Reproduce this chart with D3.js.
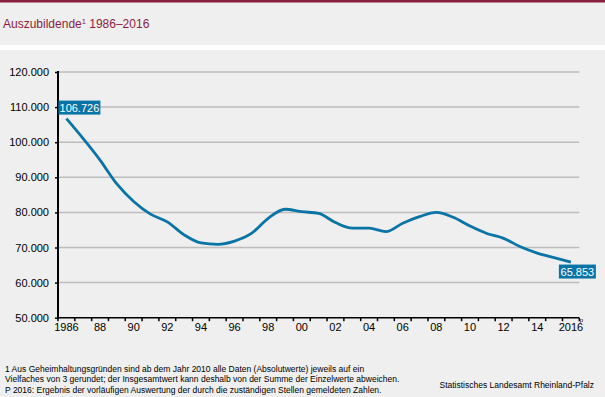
<!DOCTYPE html>
<html><head><meta charset="utf-8">
<script src="https://cdn.jsdelivr.net/npm/d3@7"></script>
<style>
html,body{margin:0;padding:0;background:#EEEFEE;}
svg{display:block;font-family:"Liberation Sans",Arial,sans-serif;}
</style></head>
<body>
<script>
const years = d3.range(1986, 2017);
const values = [106726, 101000, 94900, 88100, 83100, 79500, 77300, 73600, 71300, 70900,
  71800, 74000, 78300, 80900, 80200, 79700, 77100, 75500, 75500, 74500,
  76900, 78800, 80000, 78600, 76100, 74000, 72600, 70200, 68400, 67100, 65853];
const yTicks = [50000, 60000, 70000, 80000, 90000, 100000, 110000, 120000];
const xTickLabels = ["1986","88","90","92","94","96","98","00","02","04","06","08","10","12","14","2016"];
const title = "Auszubildende";
const titleSup = "1";
const titleRest = " 1986–2016";
const footnotes = [
  "1  Aus Geheimhaltungsgründen sind ab dem Jahr 2010 alle Daten (Absolutwerte) jeweils auf ein",
  "Vielfaches von 3 gerundet; der Insgesamtwert kann deshalb von der Summe der Einzelwerte abweichen.",
  "P  2016: Ergebnis der vorläufigen Auswertung der durch die zuständigen Stellen gemeldeten Zahlen."
];
const source = "Statistisches Landesamt Rheinland-Pfalz";

const W = 605, H = 397;
const svg = d3.select("body").append("svg").attr("width", W).attr("height", H);
svg.append("rect").attr("width", W).attr("height", H).attr("fill", "#EEEFEE");
svg.append("rect").attr("width", W).attr("height", 2.5).attr("fill", "#8B1E3F");
svg.append("rect").attr("y", 45).attr("width", W).attr("height", 5).attr("fill", "#FFFFFF");

const t = svg.append("text").attr("x", 3).attr("y", 28).attr("font-size", 12).attr("fill", "#8B1E3F");
t.append("tspan").text(title);
t.append("tspan").text(titleSup).attr("font-size", 7.5).attr("dy", -4);
t.append("tspan").text(titleRest).attr("dy", 4);

const loc = d3.formatLocale({decimal: ",", thousands: ".", grouping: [3], currency: ["", "€"]});
const fmt = loc.format(",");

const x0 = 58, x1 = 579.3;
const x = d3.scaleBand().domain(years).range([x0, x1]).padding(0);
const y = d3.scaleLinear().domain([50000, 120000]).range([317.7, 72]);

// gridlines
svg.append("g").selectAll("line").data(yTicks.filter(v => v > 50000)).join("line")
  .attr("x1", x0).attr("x2", x1).attr("y1", d => y(d)).attr("y2", d => y(d))
  .attr("stroke", "#BDBDBD").attr("stroke-width", 1.5);

// y axis
const yAxis = svg.append("g").attr("transform", `translate(${x0},0)`)
  .call(d3.axisLeft(y).tickValues(yTicks).tickFormat(fmt).tickSize(3).tickPadding(6));
yAxis.select(".domain").remove();
yAxis.selectAll(".tick line").attr("stroke", "#000").attr("stroke-width", 1.5);
yAxis.selectAll("text").attr("font-size", 11).attr("fill", "#000").attr("font-family", "Liberation Sans, Arial, sans-serif");
svg.append("line").attr("x1", x0).attr("x2", x0).attr("y1", y(120000) - 1).attr("y2", y(50000) + 1)
  .attr("stroke", "#000").attr("stroke-width", 2);

// x axis
const xAxis = svg.append("g").attr("transform", `translate(0,${y(50000)})`)
  .call(d3.axisBottom(x).tickValues(years.filter(v => v % 2 === 0))
    .tickFormat((d, i) => xTickLabels[i]).tickSize(0).tickPadding(6));
xAxis.select(".domain").remove();
xAxis.selectAll("text").attr("font-size", 11).attr("fill", "#000").attr("font-family", "Liberation Sans, Arial, sans-serif");
svg.append("line").attr("x1", x0).attr("x2", x1).attr("y1", y(50000)).attr("y2", y(50000))
  .attr("stroke", "#000").attr("stroke-width", 1.5);
const bounds = years.map(d => x(d)).concat([x1]);
svg.append("g").selectAll("line").data(bounds).join("line")
  .attr("x1", d => d).attr("x2", d => d).attr("y1", y(50000)).attr("y2", y(50000) + 3.5)
  .attr("stroke", "#000").attr("stroke-width", 1.5);
svg.append("text").attr("x", x1 + 0.5).attr("y", y(50000) + 4).attr("font-size", 6).attr("fill", "#000").text("p");

// line
const cx = d => x(d) + x.bandwidth() / 2;
const line = d3.line().x((d, i) => cx(years[i])).y(d => y(d)).curve(d3.curveMonotoneX);
svg.append("path").attr("d", line(values)).attr("fill", "none")
  .attr("stroke", "#0A74A6").attr("stroke-width", 2.8).attr("stroke-linejoin", "round");

// labels
function label(i, bx, by, bw) {
  svg.append("rect").attr("x", bx).attr("y", by).attr("width", bw).attr("height", 14).attr("fill", "#0A74A6");
  svg.append("text").attr("x", bx + bw / 2).attr("y", by + 11).attr("text-anchor", "middle")
    .attr("font-size", 11).attr("fill", "#fff").text(fmt(values[i]));
}
label(0, cx(years[0]) - 8, y(values[0]) - 18, 42);
label(values.length - 1, cx(years[30]) - 12, y(values[30]) + 2.5, 37);

// footnotes
svg.append("g").selectAll("text").data(footnotes).join("text")
  .attr("x", 5).attr("y", (d, i) => 372 + i * 10.3)
  .attr("font-size", 8.5).attr("fill", "#000").text(d => d);
svg.append("text").attr("x", 594).attr("y", 388).attr("text-anchor", "end")
  .attr("font-size", 8.5).attr("fill", "#000").text(source);
</script>
</body></html>
